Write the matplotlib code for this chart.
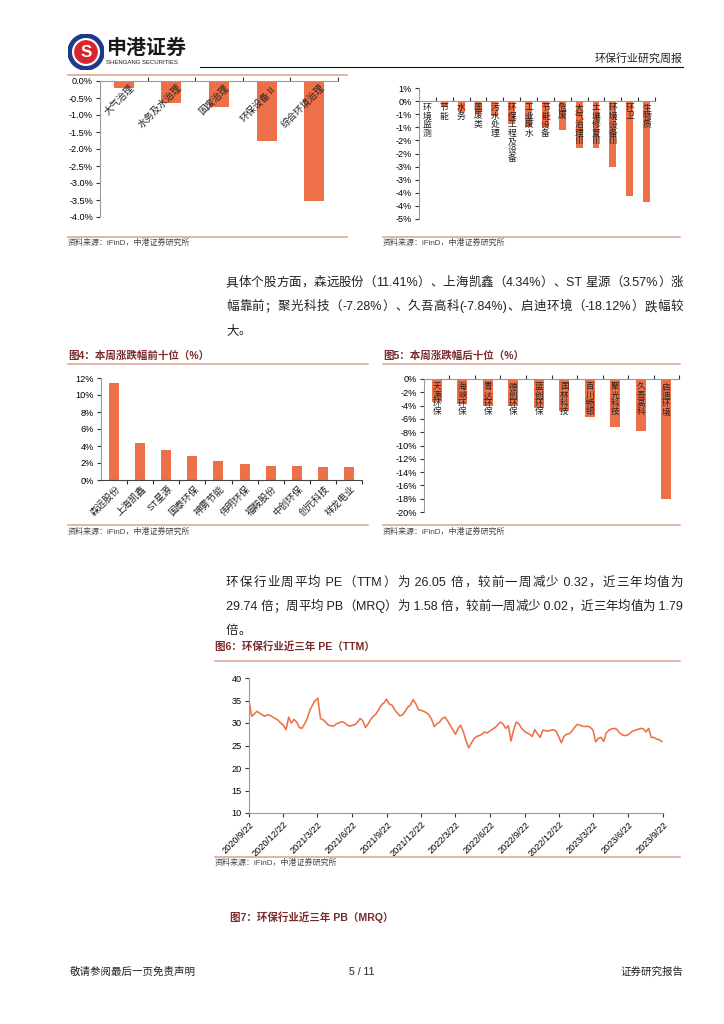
import numpy as np
import pandas as pd
import matplotlib
matplotlib.use('Agg')
import matplotlib.pyplot as plt
from matplotlib.lines import Line2D
from matplotlib.patches import Circle

plt.rcParams['font.family'] = ['Liberation Sans', 'Noto Sans CJK SC', 'DejaVu Sans']

# ---- data ----
sector_names = ['大气治理', '水务及水治理', '固废治理', '环保设备Ⅱ', '综合环境治理']
sector_chg = [-0.22, -0.64, -0.75, -1.77, -3.53]

sub_names = ['环境监测', '节能', '水务', '固废类', '污水处理', '环保工程及设备', '工业废水',
             '节能设备', '危废', '大气治理Ⅲ', '土壤修复Ⅲ', '环境设备Ⅲ', '环卫', '生物质']
sub_chg = [0.0, -0.21, -0.43, -0.50, -0.55, -0.88, -0.99, -1.00, -1.12, -1.80, -1.80,
           -2.52, -3.62, -3.85]
sub_ticks = [0.5, 0, -0.5, -1.0, -1.5, -2.0, -2.5, -3.0, -3.5, -4.0, -4.5]
sub_tick_labels = ['1%', '0%', '-1%', '-1%', '-2%', '-2%', '-3%', '-3%', '-4%', '-4%', '-5%']

top_names = ['森远股份', '上海凯鑫', 'ST星源', '国泰环保', '神雾节能', '伟明环保',
             '福鞍股份', '中创环保', '创元科技', '祥龙电业']
top_chg = [11.41, 4.34, 3.57, 2.85, 2.18, 1.90, 1.65, 1.65, 1.48, 1.48]

bottom_names = ['天源环保', '海峡环保', '青达环保', '德创环保', '蓝创环保', '国林科技',
                '百川畅银', '聚光科技', '久吾高科', '启迪环境']
bottom_chg = [-3.47, -3.72, -4.02, -4.05, -4.32, -4.78, -5.73, -7.28, -7.84, -18.12]

# weekly PE(TTM) readings, 2020/9/22 -> 2023/9/22
pe = [35.0, 31.5, 32.0, 32.6, 32.2, 31.8, 31.5, 31.8, 31.7, 31.3,
      31.0, 30.6, 30.0, 29.5, 28.5, 31.3, 30.0, 30.8, 30.2, 29.0,
      28.8, 29.8, 31.0, 32.8, 34.0, 35.0, 35.5, 31.0, 30.7, 30.2,
      29.5, 29.4, 29.3, 29.8, 30.0, 30.3, 30.1, 29.6, 29.3, 29.5,
      29.6, 30.2, 31.0, 30.5, 29.0, 29.8, 30.8, 31.5, 32.0, 33.0,
      34.0, 34.5, 35.3, 34.2, 34.0, 33.0, 32.2, 31.6, 31.8, 32.6,
      33.5, 34.0, 35.2, 34.3, 33.0, 32.8, 32.6, 32.3, 31.8, 30.8,
      29.2, 29.8, 30.2, 31.0, 31.3, 30.5, 29.5, 28.5, 27.5, 28.8,
      29.5, 28.0, 26.0, 24.5, 25.5, 26.5, 27.0, 27.2, 27.5, 28.0,
      27.8, 28.2, 28.6, 29.0, 29.6, 30.2, 29.8, 28.8, 29.4, 26.0,
      28.5, 30.2, 29.8, 28.8, 28.2, 27.8, 27.5, 27.0, 28.5, 27.6,
      26.8, 28.4, 28.3, 28.2, 28.4, 28.5, 28.2, 27.0, 25.6, 27.0,
      27.5, 27.6, 28.2, 29.0, 29.7, 29.5, 29.3, 29.2, 29.3, 29.0,
      28.4, 25.8, 26.6, 26.8, 25.9, 27.8, 28.4, 28.7, 28.8, 28.6,
      27.8, 27.4, 27.2, 27.3, 27.8, 28.2, 28.4, 28.6, 28.8, 28.7,
      28.0, 28.8, 26.8, 26.8, 26.4, 26.3, 25.9]
pe_dates = pd.date_range('2020-09-22', periods=len(pe), freq='7D')
pe_tick_labels = ['2020/9/22', '2020/12/22', '2021/3/22', '2021/6/22', '2021/9/22',
                  '2021/12/22', '2022/3/22', '2022/6/22', '2022/9/22', '2022/12/22',
                  '2023/3/22', '2023/6/22', '2023/9/22']

para1 = ['具体个股方面，森远股份（11.41%）、上海凯鑫（4.34%）、ST 星源（3.57%）涨',
         '幅靠前；聚光科技（-7.28%）、久吾高科(-7.84%)、启迪环境（-18.12%）跌幅较',
         '大。']
para2 = ['环保行业周平均 PE（TTM）为 26.05 倍，较前一周减少 0.32，近三年均值为',
         '29.74 倍；周平均 PB（MRQ）为 1.58 倍，较前一周减少 0.02，近三年均值为 1.79',
         '倍。']

BAR = '#EE7048'
AXC = '#9A9A9A'
SALMON = '#DDA595'
TITLE = '#7A2A2A'
SRC = '资料来源：iFinD，中港证券研究所'
TICK = 9.2

W, H = 724, 1024
fig = plt.figure(figsize=(W / 100, H / 100), dpi=100)
renderer = fig.canvas.get_renderer()


def pt(p):
    return p * 0.72


def add_ax(x0, y0, x1, y1):
    return fig.add_axes([x0 / W, 1 - y1 / H, (x1 - x0) / W, (y1 - y0) / H])


def ftext(x, y, s, size, **kw):
    kw.setdefault('va', 'center')
    return fig.text(x / W, 1 - y / H, s, fontsize=pt(size), **kw)


def fline(x0, x1, y, color=SALMON, lw=1.6):
    fig.add_artist(Line2D([x0 / W, x1 / W], [1 - y / H, 1 - y / H], color=color, lw=pt(lw)))


def measure(s, size):
    t = fig.text(0, 0, s + '口', fontsize=pt(size))
    w = t.get_window_extent(renderer).width
    t.set_text('口')
    w -= t.get_window_extent(renderer).width
    t.remove()
    return w


def justify(x0, x1, y, s, size, full=True):
    toks = []
    for ch in s:
        if ord(ch) < 128 and toks and all(ord(c) < 128 for c in toks[-1]):
            toks[-1] += ch
        else:
            toks.append(ch)
    pref = [0.0]
    for k in range(1, len(toks)):
        pref.append(measure(''.join(toks[:k]), size))
    total = measure(s, size)
    extra = (x1 - x0 - total) / (len(toks) - 1) if full and len(toks) > 1 else 0
    for k, tk in enumerate(toks):
        ftext(x0 + pref[k] + k * extra, y, tk, size, va='center', color='#222222')


def neg_bars(ax, vals, lo, hi, ticks, labels, width):
    n = len(vals)
    x = np.arange(n)
    ax.bar(x, vals, width=width, color=BAR, zorder=2)
    ax.set_xlim(-0.5, n - 0.5)
    ax.set_ylim(lo, hi)
    ax.set_yticks(ticks)
    ax.set_yticklabels(labels)
    for s in ('right', 'bottom'):
        ax.spines[s].set_visible(False)
    ax.spines['top'].set_position(('data', 0))
    ax.spines['top'].set_color(AXC)
    ax.spines['left'].set_color(AXC)
    ax.xaxis.set_ticks_position('top')
    ax.set_xticks(x + 0.5)
    ax.tick_params(axis='x', labeltop=False, direction='out', length=3, color='#333333')
    ax.tick_params(axis='y', length=3, color='#333333', labelsize=pt(TICK), pad=2)
    ax.patch.set_visible(False)


# ---- header ----
lax = add_ax(68, 34, 104, 70)
lax.set_xlim(-1, 1); lax.set_ylim(-1, 1); lax.set_aspect('equal'); lax.axis('off')
lax.add_patch(Circle((0, 0), 1.0, color='#1F3A8A'))
lax.add_patch(Circle((0, 0), 0.74, color='white'))
lax.add_patch(Circle((0, 0), 0.62, color='#D7262E'))
lax.text(0, -0.05, 'S', color='white', fontsize=pt(17), fontweight='bold', ha='center', va='center')
ftext(106, 48, '申港证券', 20, fontweight='bold', color='#1A1A1A')
ftext(106, 63, 'SHENGANG SECURITIES', 6, color='#1A1A1A')
fline(200, 683, 67, color='#111111', lw=1.1)
ftext(683, 58, '环保行业研究周报', 11, ha='right', color='#222222')

# ---- chart 1 ----
fline(68, 347, 75)
ax1 = add_ax(100, 81, 338, 217)
neg_bars(ax1, sector_chg, -4.0, 0.0, np.arange(0, -4.01, -0.5),
         ['%.1f%%' % v if v != 0 else '0.0%' for v in np.arange(0, -4.01, -0.5)], 0.42)
for i, name in enumerate(sector_names):
    ax1.annotate(name, xy=(i + 0.12, 0), xytext=(0, -1.5), textcoords='offset points',
                 rotation=45, rotation_mode='anchor', ha='right', va='top',
                 fontsize=pt(9.5), annotation_clip=False, zorder=3, color='#222222')
fline(68, 347, 237)
ftext(68, 243, SRC, 8, color='#444444')

# ---- chart 2 ----
ax2 = add_ax(419, 88, 655, 219)
neg_bars(ax2, sub_chg, -4.5, 0.5, sub_ticks, sub_tick_labels, 0.4)
for i, name in enumerate(sub_names):
    ax2.annotate('\n'.join(name), xy=(i, 0), xytext=(0, -1.5), textcoords='offset points',
                 ha='center', va='top', fontsize=pt(8.8), linespacing=0.92,
                 annotation_clip=False, zorder=3, color='#222222')
fline(383, 680, 237)
ftext(383, 243, SRC, 8, color='#444444')

# ---- paragraph 1 ----
justify(226, 683, 283, para1[0], 12.5)
justify(226, 683, 307, para1[1], 12.5)
justify(226, 683, 331, para1[2], 12.5, full=False)

# ---- chart 4 ----
ftext(68, 356, '图4：本周涨跌幅前十位（%）', 10.5, fontweight='bold', color=TITLE)
fline(68, 368, 364)
ax4 = add_ax(101, 378, 362, 480)
x4 = np.arange(len(top_chg))
ax4.bar(x4, top_chg, width=0.38, color=BAR, zorder=2)
ax4.set_xlim(-0.5, len(top_chg) - 0.5)
ax4.set_ylim(0, 12)
ax4.set_yticks(np.arange(0, 13, 2))
ax4.set_yticklabels(['%d%%' % v for v in np.arange(0, 13, 2)])
ax4.set_xticks(x4 + 0.5)
ax4.tick_params(axis='x', labelbottom=False, length=3, color='#333333')
ax4.tick_params(axis='y', length=3, color='#333333', labelsize=pt(TICK), pad=2)
for s in ('right', 'top'):
    ax4.spines[s].set_visible(False)
ax4.spines['left'].set_color(AXC)
ax4.spines['bottom'].set_color('#444444')
ax4.patch.set_visible(False)
for i, name in enumerate(top_names):
    ax4.annotate(name, xy=(i + 0.05, 0), xytext=(0, -3), textcoords='offset points',
                 rotation=45, rotation_mode='anchor', ha='right', va='top',
                 fontsize=pt(9.5), annotation_clip=False, color='#222222')
fline(68, 368, 525)
ftext(68, 532, SRC, 8, color='#444444')

# ---- chart 5 ----
ftext(383, 356, '图5：本周涨跌幅后十位（%）', 10.5, fontweight='bold', color=TITLE)
fline(383, 680, 364)
ax5 = add_ax(424, 379, 679, 512)
neg_bars(ax5, bottom_chg, -20, 0, np.arange(0, -20.1, -2),
         ['%d%%' % v for v in np.arange(0, -20.1, -2)], 0.38)
for i, name in enumerate(bottom_names):
    ax5.annotate('\n'.join(name), xy=(i, 0), xytext=(0, -2.5), textcoords='offset points',
                 ha='center', va='top', fontsize=pt(8.6), linespacing=0.9,
                 annotation_clip=False, zorder=3, color='#222222')
fline(383, 680, 525)
ftext(383, 532, SRC, 8, color='#444444')

# ---- paragraph 2 ----
justify(226, 683, 583, para2[0], 12.5)
justify(226, 683, 607, para2[1], 12.5)
justify(226, 683, 631, para2[2], 12.5, full=False)

# ---- chart 6 ----
ftext(215, 646, '图6：环保行业近三年 PE（TTM）', 10.5, fontweight='bold', color=TITLE)
fline(215, 680, 661)
ax6 = add_ax(249, 678, 663, 813)
ax6.plot(pe_dates, pe, color='#EE7048', lw=pt(1.6))
tick_dates = pd.to_datetime(pe_tick_labels, format='%Y/%m/%d')
ax6.set_xlim(tick_dates[0], tick_dates[-1])
ax6.set_ylim(10, 40)
ax6.set_yticks(np.arange(10, 41, 5))
ax6.set_xticks(tick_dates)
ax6.set_xticklabels(pe_tick_labels, rotation=45, ha='right', rotation_mode='anchor')
ax6.tick_params(axis='x', labelsize=pt(TICK), length=3, color='#333333', pad=2)
ax6.tick_params(axis='y', labelsize=pt(TICK), length=3, color='#333333', pad=2)
for s in ('right', 'top'):
    ax6.spines[s].set_visible(False)
ax6.spines['left'].set_color(AXC)
ax6.spines['bottom'].set_color(AXC)
ax6.patch.set_visible(False)
fline(215, 680, 857)
ftext(215, 863, SRC, 8, color='#444444')

# ---- figure 7 title + footer ----
ftext(230, 917, '图7：环保行业近三年 PB（MRQ）', 10.5, fontweight='bold', color=TITLE)
ftext(70, 972, '敬请参阅最后一页免责声明', 10.5, color='#222222')
ftext(362, 972, '5 / 11', 10.5, ha='center', color='#222222')
ftext(683, 972, '证券研究报告', 10.5, ha='right', color='#222222')

fig.savefig('out.png', dpi=100)
